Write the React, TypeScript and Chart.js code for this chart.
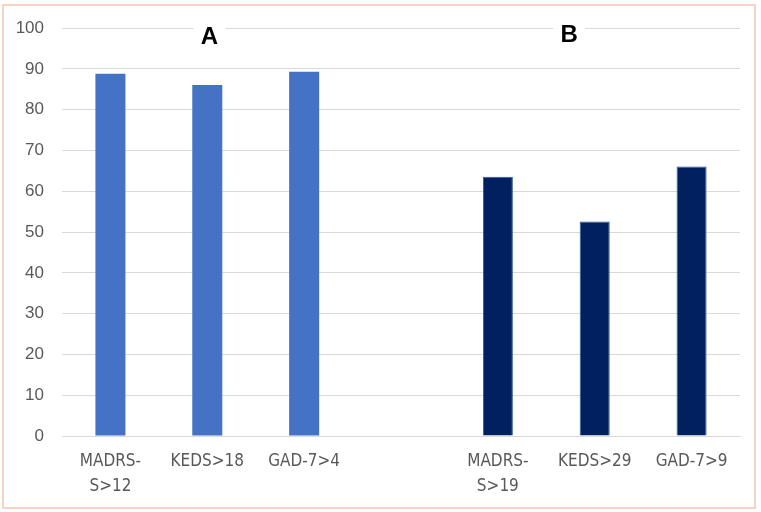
import React, { useEffect, useRef } from "react";
import { Chart, registerables } from "chart.js";

Chart.register(...registerables);

const categories: (string | string[])[] = [
  ["MADRS-", "S>12"],
  "KEDS>18",
  "GAD-7>4",
  "",
  ["MADRS-", "S>19"],
  "KEDS>29",
  "GAD-7>9",
];
const values: (number | null)[] = [88.8, 86.1, 89.3, null, 63.6, 52.6, 66.1];
const barColors = ["#4472C4", "#4472C4", "#4472C4", "#4472C4", "#002060", "#002060", "#002060"];
const barBorders = ["#4472C4", "#4472C4", "#4472C4", "#4472C4", "#2F5597", "#2F5597", "#2F5597"];
const panelLabels = ["A", "B"];
const panelPositions = [0.2175, 0.748];
const panelOffsets = [9.5, 7.5];
const yTicks = [0, 10, 20, 30, 40, 50, 60, 70, 80, 90, 100];

const decorPlugin = {
  id: "decor",
  beforeDraw(chart: any) {
    const ctx = chart.ctx;
    ctx.save();
    ctx.fillStyle = "#ffffff";
    ctx.fillRect(0, 0, chart.width, chart.height);
    ctx.strokeStyle = "#F2C6B4";
    ctx.lineWidth = 1.5;
    ctx.strokeRect(3, 5, 752, 503);
    ctx.restore();
  },
  afterDraw(chart: any) {
    const ctx = chart.ctx;
    const area = chart.chartArea;
    ctx.save();
    panelLabels.forEach((lab, i) => {
      const cx = area.left + (area.right - area.left) * panelPositions[i];
      const cy = area.top + panelOffsets[i];
      ctx.fillStyle = "#ffffff";
      ctx.fillRect(cx - 16, cy - 15, 32, 30);
      ctx.fillStyle = "#000000";
      ctx.font = "bold 24px 'Liberation Sans', Arial, sans-serif";
      ctx.textAlign = "center";
      ctx.textBaseline = "middle";
      ctx.fillText(lab, cx, cy);
    });
    ctx.restore();
  },
};

export default function App() {
  const ref = useRef<HTMLCanvasElement | null>(null);
  useEffect(() => {
    if (!ref.current) return;
    const chart = new Chart(ref.current, {
      type: "bar",
      data: {
        labels: categories as any,
        datasets: [
          {
            data: values as any,
            backgroundColor: barColors,
            borderColor: barBorders,
            borderWidth: [0, 0, 0, 0, 1, 1, 1],
            categoryPercentage: 1,
            barPercentage: 0.31,
          },
        ],
      },
      options: {
        animation: false,
        responsive: false,
        maintainAspectRatio: false,
        layout: { padding: { left: 0, right: 21, top: 25, bottom: 0 } },
        plugins: {
          legend: { display: false },
          title: { display: false },
          tooltip: { enabled: false },
        },
        scales: {
          x: {
            grid: { display: false, drawTicks: false },
            border: { display: true, color: "#D9D9D9", width: 1 },
            ticks: {
              color: "#595959",
              font: { family: "'DejaVu Sans Condensed', 'Liberation Sans', sans-serif", size: 17, lineHeight: 1.47 },
              padding: 13,
              maxRotation: 0,
              autoSkip: false,
            },
            afterFit(scale: any) {
              scale.height = 76;
            },
          },
          y: {
            min: 0,
            max: 100,
            afterBuildTicks(scale: any) {
              scale.ticks = yTicks.map((v) => ({ value: v }));
            },
            grid: { color: "#D9D9D9", lineWidth: 1, drawTicks: false },
            border: { display: false },
            ticks: {
              color: "#595959",
              font: { family: "'Liberation Sans', Arial, sans-serif", size: 17 },
              padding: 18,
            },
            afterFit(scale: any) {
              scale.width = 62;
            },
          },
        },
      },
      plugins: [decorPlugin],
    });
    return () => chart.destroy();
  }, []);
  return (
    <div style={{ position: "fixed", left: 0, top: 0, width: 761, height: 512 }}>
      <canvas ref={ref} width={761} height={512} style={{ width: 761, height: 512 }} />
    </div>
  );
}
